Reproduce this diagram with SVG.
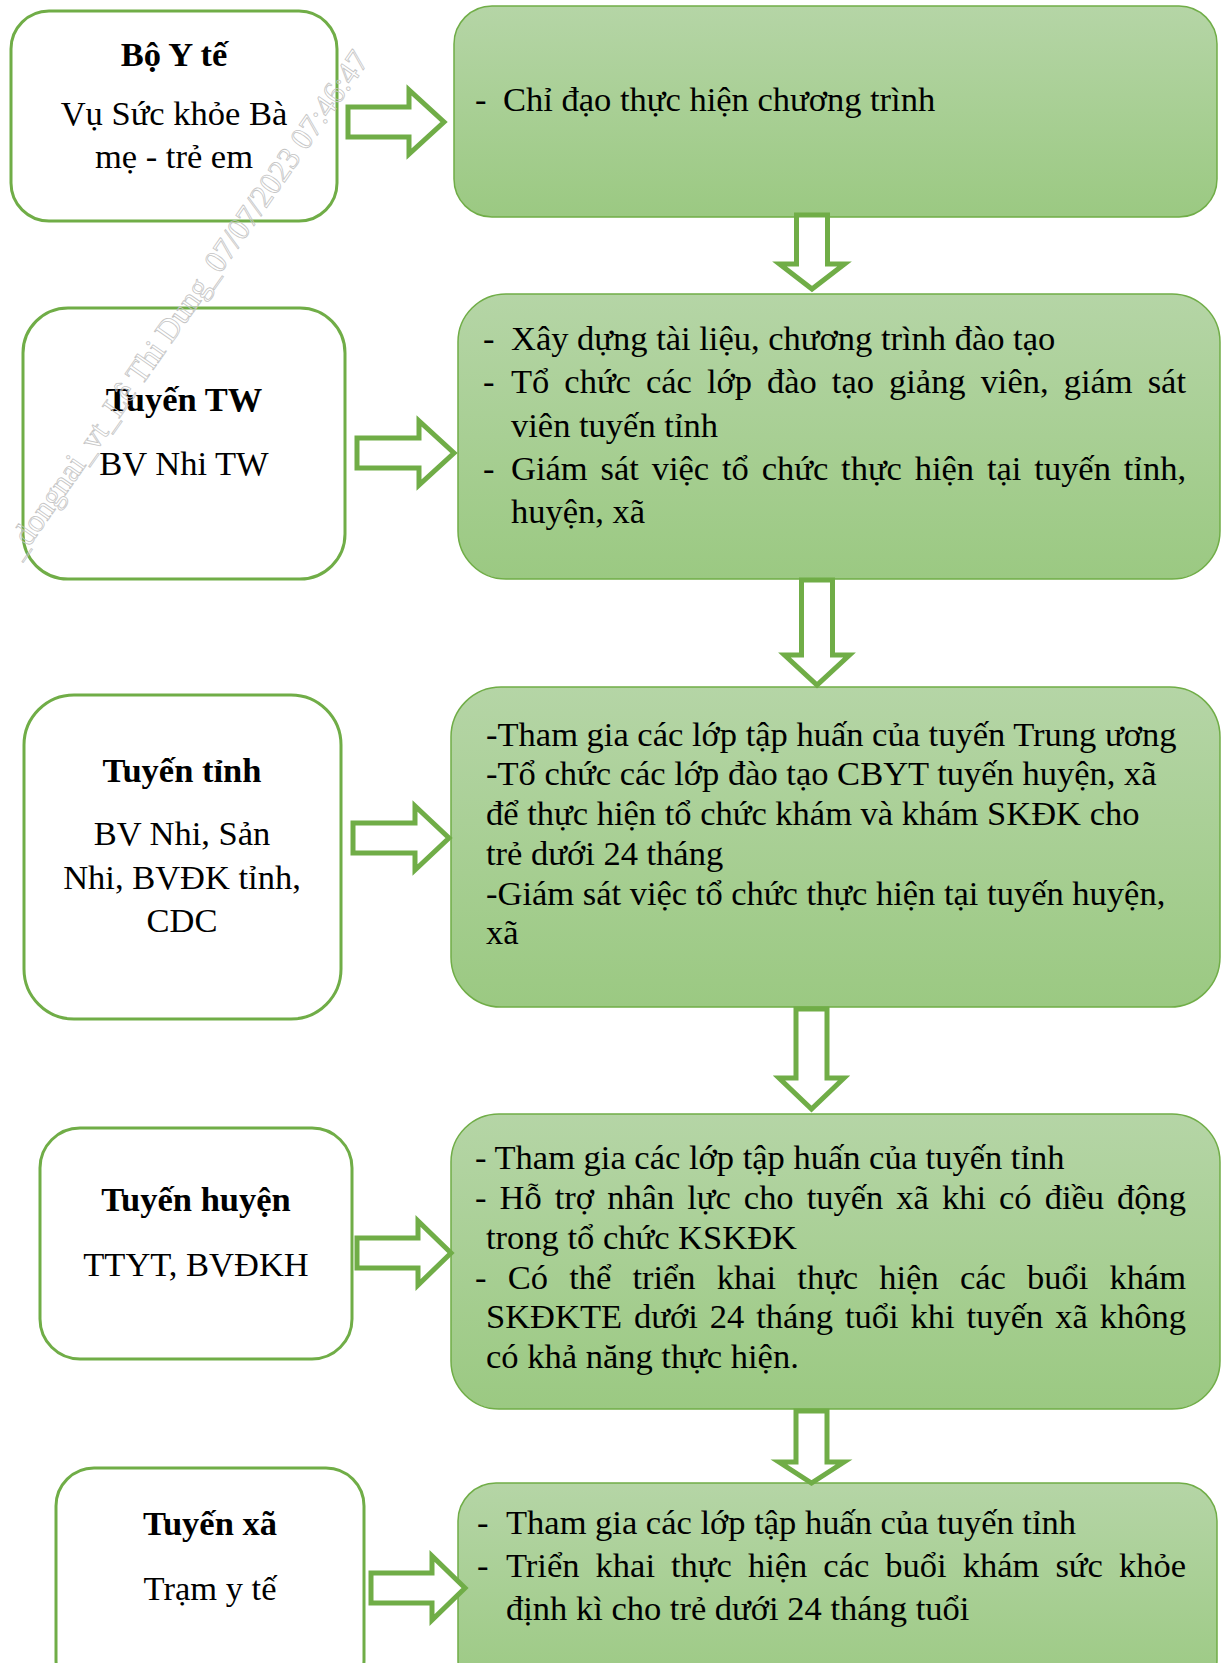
<svg xmlns="http://www.w3.org/2000/svg" width="1222" height="1663" viewBox="0 0 1222 1663">
<defs>
<linearGradient id="gg" x1="0" y1="0" x2="0" y2="1">
<stop offset="0" stop-color="#B5D5A6"/>
<stop offset="1" stop-color="#9BC982"/>
</linearGradient>
<style>
.wb{fill:#fff;stroke:#70AD47;stroke-width:3}
.gb{fill:url(#gg);stroke:#70AD47;stroke-width:1.5}
.ar{fill:#fff;stroke:#70AD47;stroke-width:5;stroke-linejoin:miter}
text{font-family:"Liberation Serif","Times New Roman",serif;font-size:34.5px;fill:#000}
.c{text-anchor:middle}
.b{font-weight:bold}
.wm{fill:none;stroke:#c4c4c4;stroke-width:0.8;font-size:32px}
</style>
</defs>
<rect width="1222" height="1663" fill="#fff"/>

<g id="n1">
<rect class="wb" x="11" y="11" width="326" height="210" rx="38"/>
<text class="c b" x="174" y="66">Bộ Y tế</text>
<text class="c" x="174" y="125">Vụ Sức khỏe Bà</text>
<text class="c" x="174" y="168">mẹ - trẻ em</text>
</g>
<g id="g1">
<rect class="gb" x="454" y="6" width="763" height="211" rx="38"/>
<text x="475" y="111">-</text>
<text x="503" y="111">Chỉ đạo thực hiện chương trình</text>
</g>

<g id="n2">
<rect class="wb" x="23" y="308" width="322" height="271" rx="45"/>
<text class="c b" x="184" y="411">Tuyến TW</text>
<text class="c" x="184" y="475">BV Nhi TW</text>
</g>
<g id="g2">
<rect class="gb" x="458" y="294" width="762" height="285" rx="48"/>
<text x="483" y="350">-</text>
<text x="511" y="350">Xây dựng tài liệu, chương trình đào tạo</text>
<text x="483" y="393">-</text>
<text x="511" y="393" word-spacing="6.4" textLength="675" lengthAdjust="spacing">Tổ chức các lớp đào tạo giảng viên, giám sát</text>
<text x="511" y="437">viên tuyến tỉnh</text>
<text x="483" y="480">-</text>
<text x="511" y="480" word-spacing="4.3" textLength="675" lengthAdjust="spacing">Giám sát việc tổ chức thực hiện tại tuyến tỉnh,</text>
<text x="511" y="523">huyện, xã</text>
</g>

<g id="n3">
<rect class="wb" x="24" y="695" width="317" height="324" rx="50"/>
<text class="c b" x="182" y="782">Tuyến tỉnh</text>
<text class="c" x="182" y="845">BV Nhi, Sản</text>
<text class="c" x="182" y="889">Nhi, BVĐK tỉnh,</text>
<text class="c" x="182" y="932">CDC</text>
</g>
<g id="g3">
<rect class="gb" x="451" y="687" width="769" height="320" rx="50"/>
<text x="486" y="746">-Tham gia các lớp tập huấn của tuyến Trung ương</text>
<text x="486" y="785">-Tổ chức các lớp đào tạo CBYT tuyến huyện, xã</text>
<text x="486" y="825">để thực hiện tổ chức khám và khám SKĐK cho</text>
<text x="486" y="865">trẻ dưới 24 tháng</text>
<text x="486" y="905">-Giám sát việc tổ chức thực hiện tại tuyến huyện,</text>
<text x="486" y="944">xã</text>
</g>

<g id="n4">
<rect class="wb" x="40" y="1128" width="312" height="231" rx="40"/>
<text class="c b" x="196" y="1211">Tuyến huyện</text>
<text class="c" x="196" y="1276">TTYT, BVĐKH</text>
</g>
<g id="g4">
<rect class="gb" x="451" y="1114" width="769" height="295" rx="48"/>
<text x="475" y="1169">- Tham gia các lớp tập huấn của tuyến tỉnh</text>
<text x="475" y="1209" word-spacing="4.5" textLength="711" lengthAdjust="spacing">- Hỗ trợ nhân lực cho tuyến xã khi có điều động</text>
<text x="486" y="1249">trong tổ chức KSKĐK</text>
<text x="475" y="1289" word-spacing="12.7" textLength="711" lengthAdjust="spacing">- Có thể triển khai thực hiện các buổi khám</text>
<text x="486" y="1328" word-spacing="3.4" textLength="700" lengthAdjust="spacing">SKĐKTE dưới 24 tháng tuổi khi tuyến xã không</text>
<text x="486" y="1368">có khả năng thực hiện.</text>
</g>

<g id="n5">
<rect class="wb" x="56" y="1468" width="308" height="230" rx="38"/>
<text class="c b" x="210" y="1535">Tuyến xã</text>
<text class="c" x="210" y="1600">Trạm y tế</text>
</g>
<g id="g5">
<rect class="gb" x="458" y="1483" width="759" height="215" rx="38"/>
<text x="477" y="1534">-</text>
<text x="506" y="1534">Tham gia các lớp tập huấn của tuyến tỉnh</text>
<text x="477" y="1577">-</text>
<text x="506" y="1577" word-spacing="7.4" textLength="680" lengthAdjust="spacing">Triển khai thực hiện các buổi khám sức khỏe</text>
<text x="506" y="1620">định kì cho trẻ dưới 24 tháng tuổi</text>
</g>

<g id="connectors">
<path class="ar" d="M348 107 H409 V90 L444 122 L409 154 V137 H348 Z"/>
<path class="ar" d="M357 438 H419 V421 L454 453 L419 485 V468 H357 Z"/>
<path class="ar" d="M353 823 H415 V806 L449 838 L415 870 V853 H353 Z"/>
<path class="ar" d="M357 1238 H418 V1221 L451 1253 L418 1285 V1268 H357 Z"/>
<path class="ar" d="M371 1573 H432 V1556 L465 1588 L432 1620 V1603 H371 Z"/>
<path class="ar" d="M796.5 215 H827.5 V264 H844.5 L812 289 L779.5 264 H796.5 Z"/>
<path class="ar" d="M801.5 580 H832.5 V655 H849.5 L817 685 L784.5 655 H801.5 Z"/>
<path class="ar" d="M796 1009 H827 V1078 H844 L811.5 1109 L779 1078 H796 Z"/>
<path class="ar" d="M796 1411 H827 V1462 H844 L811.5 1483 L779 1462 H796 Z"/>
</g>

<text class="wm" x="0" y="0" transform="translate(20 560) rotate(-55)" textLength="610" lengthAdjust="spacingAndGlyphs">_dongnai_vt_Lê Thi Dung_07/07/2023 07:46:47</text>
</svg>
